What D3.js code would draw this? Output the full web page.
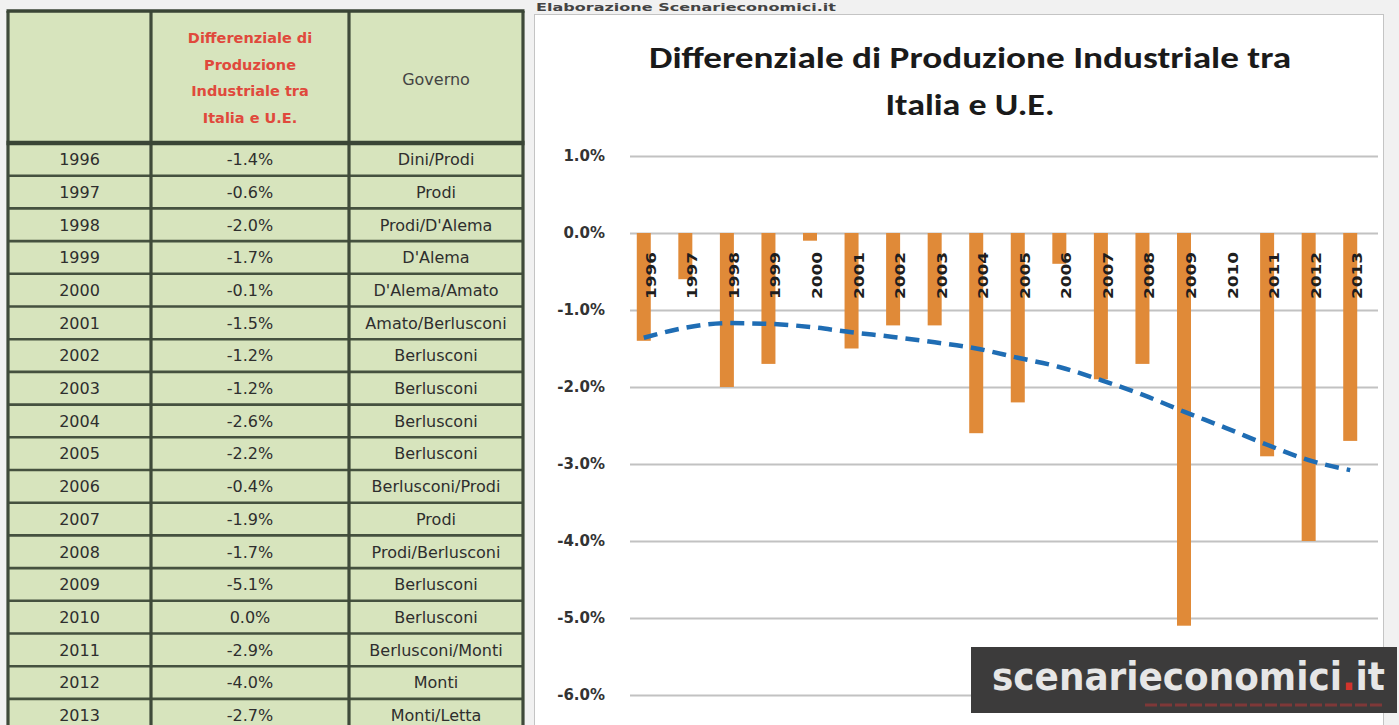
<!DOCTYPE html>
<html>
<head>
<meta charset="utf-8">
<script src="https://cdn.jsdelivr.net/npm/d3@7"></script>
<style>
  body { margin: 0; background: #f1f1f1; }
  svg { display: block; }
</style>
</head>
<body>
<div id="chart"></div>
<script>
// data
const years = ["1996", "1997", "1998", "1999", "2000", "2001", "2002", "2003", "2004",
    "2005", "2006", "2007", "2008", "2009", "2010", "2011", "2012", "2013"];
const diffValues = [-1.4, -0.6, -2.0, -1.7, -0.1, -1.5, -1.2, -1.2, -2.6,
    -2.2, -0.4, -1.9, -1.7, -5.1, 0.0, -2.9, -4.0, -2.7];
const governments = ["Dini/Prodi", "Prodi", "Prodi/D'Alema", "D'Alema", "D'Alema/Amato",
    "Amato/Berlusconi", "Berlusconi", "Berlusconi", "Berlusconi", "Berlusconi",
    "Berlusconi/Prodi", "Prodi", "Prodi/Berlusconi", "Berlusconi", "Berlusconi",
    "Berlusconi/Monti", "Monti", "Monti/Letta"];
// polynomial trend line drawn in the original, read per year
const trendValues = [-1.36, -1.23, -1.17, -1.18, -1.22, -1.29, -1.35, -1.42, -1.50,
    -1.62, -1.74, -1.91, -2.10, -2.32, -2.53, -2.75, -2.95, -3.08];
const yTicks = [1, 0, -1, -2, -3, -4, -5, -6];
const headerLines = ["Differenziale di", "Produzione", "Industriale tra", "Italia e U.E."];
const titleLines = ["Differenziale di Produzione Industriale tra", "Italia e U.E."];

const width = 1399;
const height = 725;
const fmt = v => v.toFixed(1) + "%";

const svg = d3.select("#chart")
    .append("svg")
    .attr("width", width)
    .attr("height", height);

// ---------- table on the left ----------
const colEdges = [8, 151, 349, 523];
const headerTop = 11;
const headerBottom = 143;
const rowH = 32.7;

const rowScale = d3.scaleBand()
    .domain(years)
    .range([headerBottom, headerBottom + years.length * rowH]);

const table = svg.append("g").attr("class", "table");

table.append("rect")
    .attr("x", colEdges[0])
    .attr("y", headerTop)
    .attr("width", colEdges[3] - colEdges[0])
    .attr("height", height - headerTop + 20)
    .attr("fill", "#d7e4bd");

const rows = years.map((y, i) => ({ year: y, value: diffValues[i], gov: governments[i] }));

const rowG = table.selectAll(".row")
    .data(rows)
    .enter()
    .append("g")
    .attr("class", "row")
    .attr("transform", d => `translate(0,${rowScale(d.year) + rowH / 2})`);

const cellText = [d => d.year, d => fmt(d.value), d => d.gov];
cellText.forEach((fn, c) => {
    rowG.append("text")
        .attr("x", (colEdges[c] + colEdges[c + 1]) / 2)
        .attr("dy", "0.36em")
        .attr("text-anchor", "middle")
        .attr("font-family", "'DejaVu Sans', sans-serif")
        .attr("font-size", 16)
        .attr("fill", "#2e2e2e")
        .text(fn);
});

// row separators
table.selectAll(".rowline")
    .data(years.slice(1))
    .enter()
    .append("line")
    .attr("x1", colEdges[0])
    .attr("x2", colEdges[3])
    .attr("y1", d => rowScale(d))
    .attr("y2", d => rowScale(d))
    .attr("stroke", "#45513f")
    .attr("stroke-width", 2.6);

// header
table.selectAll(".hdr")
    .data(headerLines)
    .enter()
    .append("text")
    .attr("x", (colEdges[1] + colEdges[2]) / 2)
    .attr("y", (d, i) => 38 + i * 26.5)
    .attr("dy", "0.36em")
    .attr("text-anchor", "middle")
    .attr("font-family", "'DejaVu Sans', sans-serif")
    .attr("font-weight", "bold")
    .attr("font-size", 14.5)
    .attr("fill", "#e0493c")
    .text(d => d);

table.append("text")
    .attr("x", (colEdges[2] + colEdges[3]) / 2)
    .attr("y", 79)
    .attr("dy", "0.36em")
    .attr("text-anchor", "middle")
    .attr("font-family", "'DejaVu Sans', sans-serif")
    .attr("font-size", 16)
    .attr("fill", "#444")
    .text("Governo");

// columns and frame
table.selectAll(".colline")
    .data(colEdges)
    .enter()
    .append("line")
    .attr("x1", d => d)
    .attr("x2", d => d)
    .attr("y1", headerTop)
    .attr("y2", height)
    .attr("stroke", "#3f4a3a")
    .attr("stroke-width", 3.2);

[headerTop, headerBottom].forEach((y, i) => {
    table.append("line")
        .attr("x1", colEdges[0] - 1.5)
        .attr("x2", colEdges[3] + 1.5)
        .attr("y1", y)
        .attr("y2", y)
        .attr("stroke", "#3a4536")
        .attr("stroke-width", i ? 4.5 : 3.5);
});

// ---------- chart on the right ----------
svg.append("rect")
    .attr("x", 534.5)
    .attr("y", 14.5)
    .attr("width", 849)
    .attr("height", height)
    .attr("fill", "#ffffff")
    .attr("stroke", "#c4c4c4");

svg.append("text")
    .attr("x", 536)
    .attr("y", 11)
    .attr("font-family", "'DejaVu Sans', sans-serif")
    .attr("font-weight", "bold")
    .attr("font-size", 11)
    .attr("fill", "#444")
    .attr("textLength", 300)
    .attr("lengthAdjust", "spacingAndGlyphs")
    .text("Elaborazione Scenarieconomici.it");

const titleFont = "Carlito, 'Liberation Sans Narrow', 'DejaVu Sans Condensed', sans-serif";
svg.selectAll(".title")
    .data(titleLines)
    .enter()
    .append("text")
    .attr("class", "title")
    .attr("x", 970)
    .attr("y", (d, i) => 68 + i * 47)
    .attr("text-anchor", "middle")
    .attr("font-family", titleFont)
    .attr("font-weight", "bold")
    .attr("font-size", 31)
    .attr("fill", "#1a1a1a")
    .attr("textLength", (d, i) => i ? 169 : 642)
    .attr("lengthAdjust", "spacingAndGlyphs")
    .text(d => d);

const plotLeft = 630;
const plotRight = 1378;

const x = d3.scaleBand()
    .domain(years)
    .range([plotLeft, plotRight])
    .padding(0);

// the bars sit in the left half of each category (second series slot empty)
const xSub = d3.scaleBand()
    .domain(["diff", "empty"])
    .range([x.bandwidth() / 2 - 14, x.bandwidth() / 2 + 14])
    .padding(0);

const y = d3.scaleLinear()
    .domain([-6, 1])
    .range([695, 156]);

const yAxis = svg.append("g")
    .attr("transform", `translate(${plotLeft},0)`)
    .call(d3.axisLeft(y)
        .tickValues(yTicks)
        .tickSize(-(plotRight - plotLeft))
        .tickPadding(25)
        .tickFormat(fmt));

yAxis.select(".domain").remove();
yAxis.selectAll(".tick line")
    .attr("stroke", "#c2c2c2")
    .attr("stroke-width", 2);
yAxis.selectAll(".tick text")
    .attr("font-family", "'DejaVu Sans', sans-serif")
    .attr("font-weight", "bold")
    .attr("font-size", 15)
    .attr("fill", "#333");

const barData = years.map((yr, i) => ({ year: yr, value: diffValues[i], trend: trendValues[i] }));

svg.selectAll(".bar")
    .data(barData)
    .enter()
    .append("rect")
    .attr("class", "bar")
    .attr("x", d => x(d.year) + xSub("diff"))
    .attr("y", d => y(Math.max(0, d.value)))
    .attr("width", xSub.bandwidth())
    .attr("height", d => Math.abs(y(d.value) - y(0)))
    .attr("fill", "#e08a38");

// category labels, rotated, just under the zero line
svg.selectAll(".cat")
    .data(years)
    .enter()
    .append("text")
    .attr("class", "cat")
    .attr("transform", d => `translate(${x(d) + x.bandwidth() / 2},${y(0) + 19}) rotate(-90)`)
    .attr("dy", "0.36em")
    .attr("text-anchor", "end")
    .attr("font-family", "'DejaVu Sans', sans-serif")
    .attr("font-weight", "bold")
    .attr("font-size", 14)
    .attr("fill", "#1e1e1e")
    .attr("textLength", 47)
    .attr("lengthAdjust", "spacingAndGlyphs")
    .text(d => d);

const trendLine = d3.line()
    .x(d => x(d.year) + xSub("diff") + xSub.bandwidth() / 2)
    .y(d => y(d.trend))
    .curve(d3.curveMonotoneX);

svg.append("path")
    .datum(barData)
    .attr("d", trendLine)
    .attr("fill", "none")
    .attr("stroke", "#1f6db4")
    .attr("stroke-width", 4.5)
    .attr("stroke-dasharray", "14,8");

// ---------- watermark ----------
const wm = svg.append("g");
wm.append("rect")
    .attr("x", 971)
    .attr("y", 647)
    .attr("width", 426)
    .attr("height", 66)
    .attr("fill", "#3c3b3b");

const wmText = wm.append("text")
    .attr("x", 992)
    .attr("y", 690)
    .attr("font-family", "'Liberation Sans Narrow', 'DejaVu Sans Condensed', sans-serif")
    .attr("font-weight", "bold")
    .attr("font-size", 44)
    .attr("fill", "#e6e6e6");
wmText.append("tspan").text("scenarieconomici");
wmText.append("tspan").attr("fill", "#d2342c").text(".");
wmText.append("tspan").text("it");

// shrink the font until the word fits the box like in the picture
const wmLen = wmText.node().getComputedTextLength();
if (wmLen > 0) wmText.attr("font-size", 44 * 393 / wmLen);

wm.append("line")
    .attr("x1", 1145)
    .attr("x2", 1383)
    .attr("y1", 705)
    .attr("y2", 705)
    .attr("stroke", "#7e3838")
    .attr("stroke-width", 3)
    .attr("stroke-dasharray", "12,3");
</script>
</body>
</html>
